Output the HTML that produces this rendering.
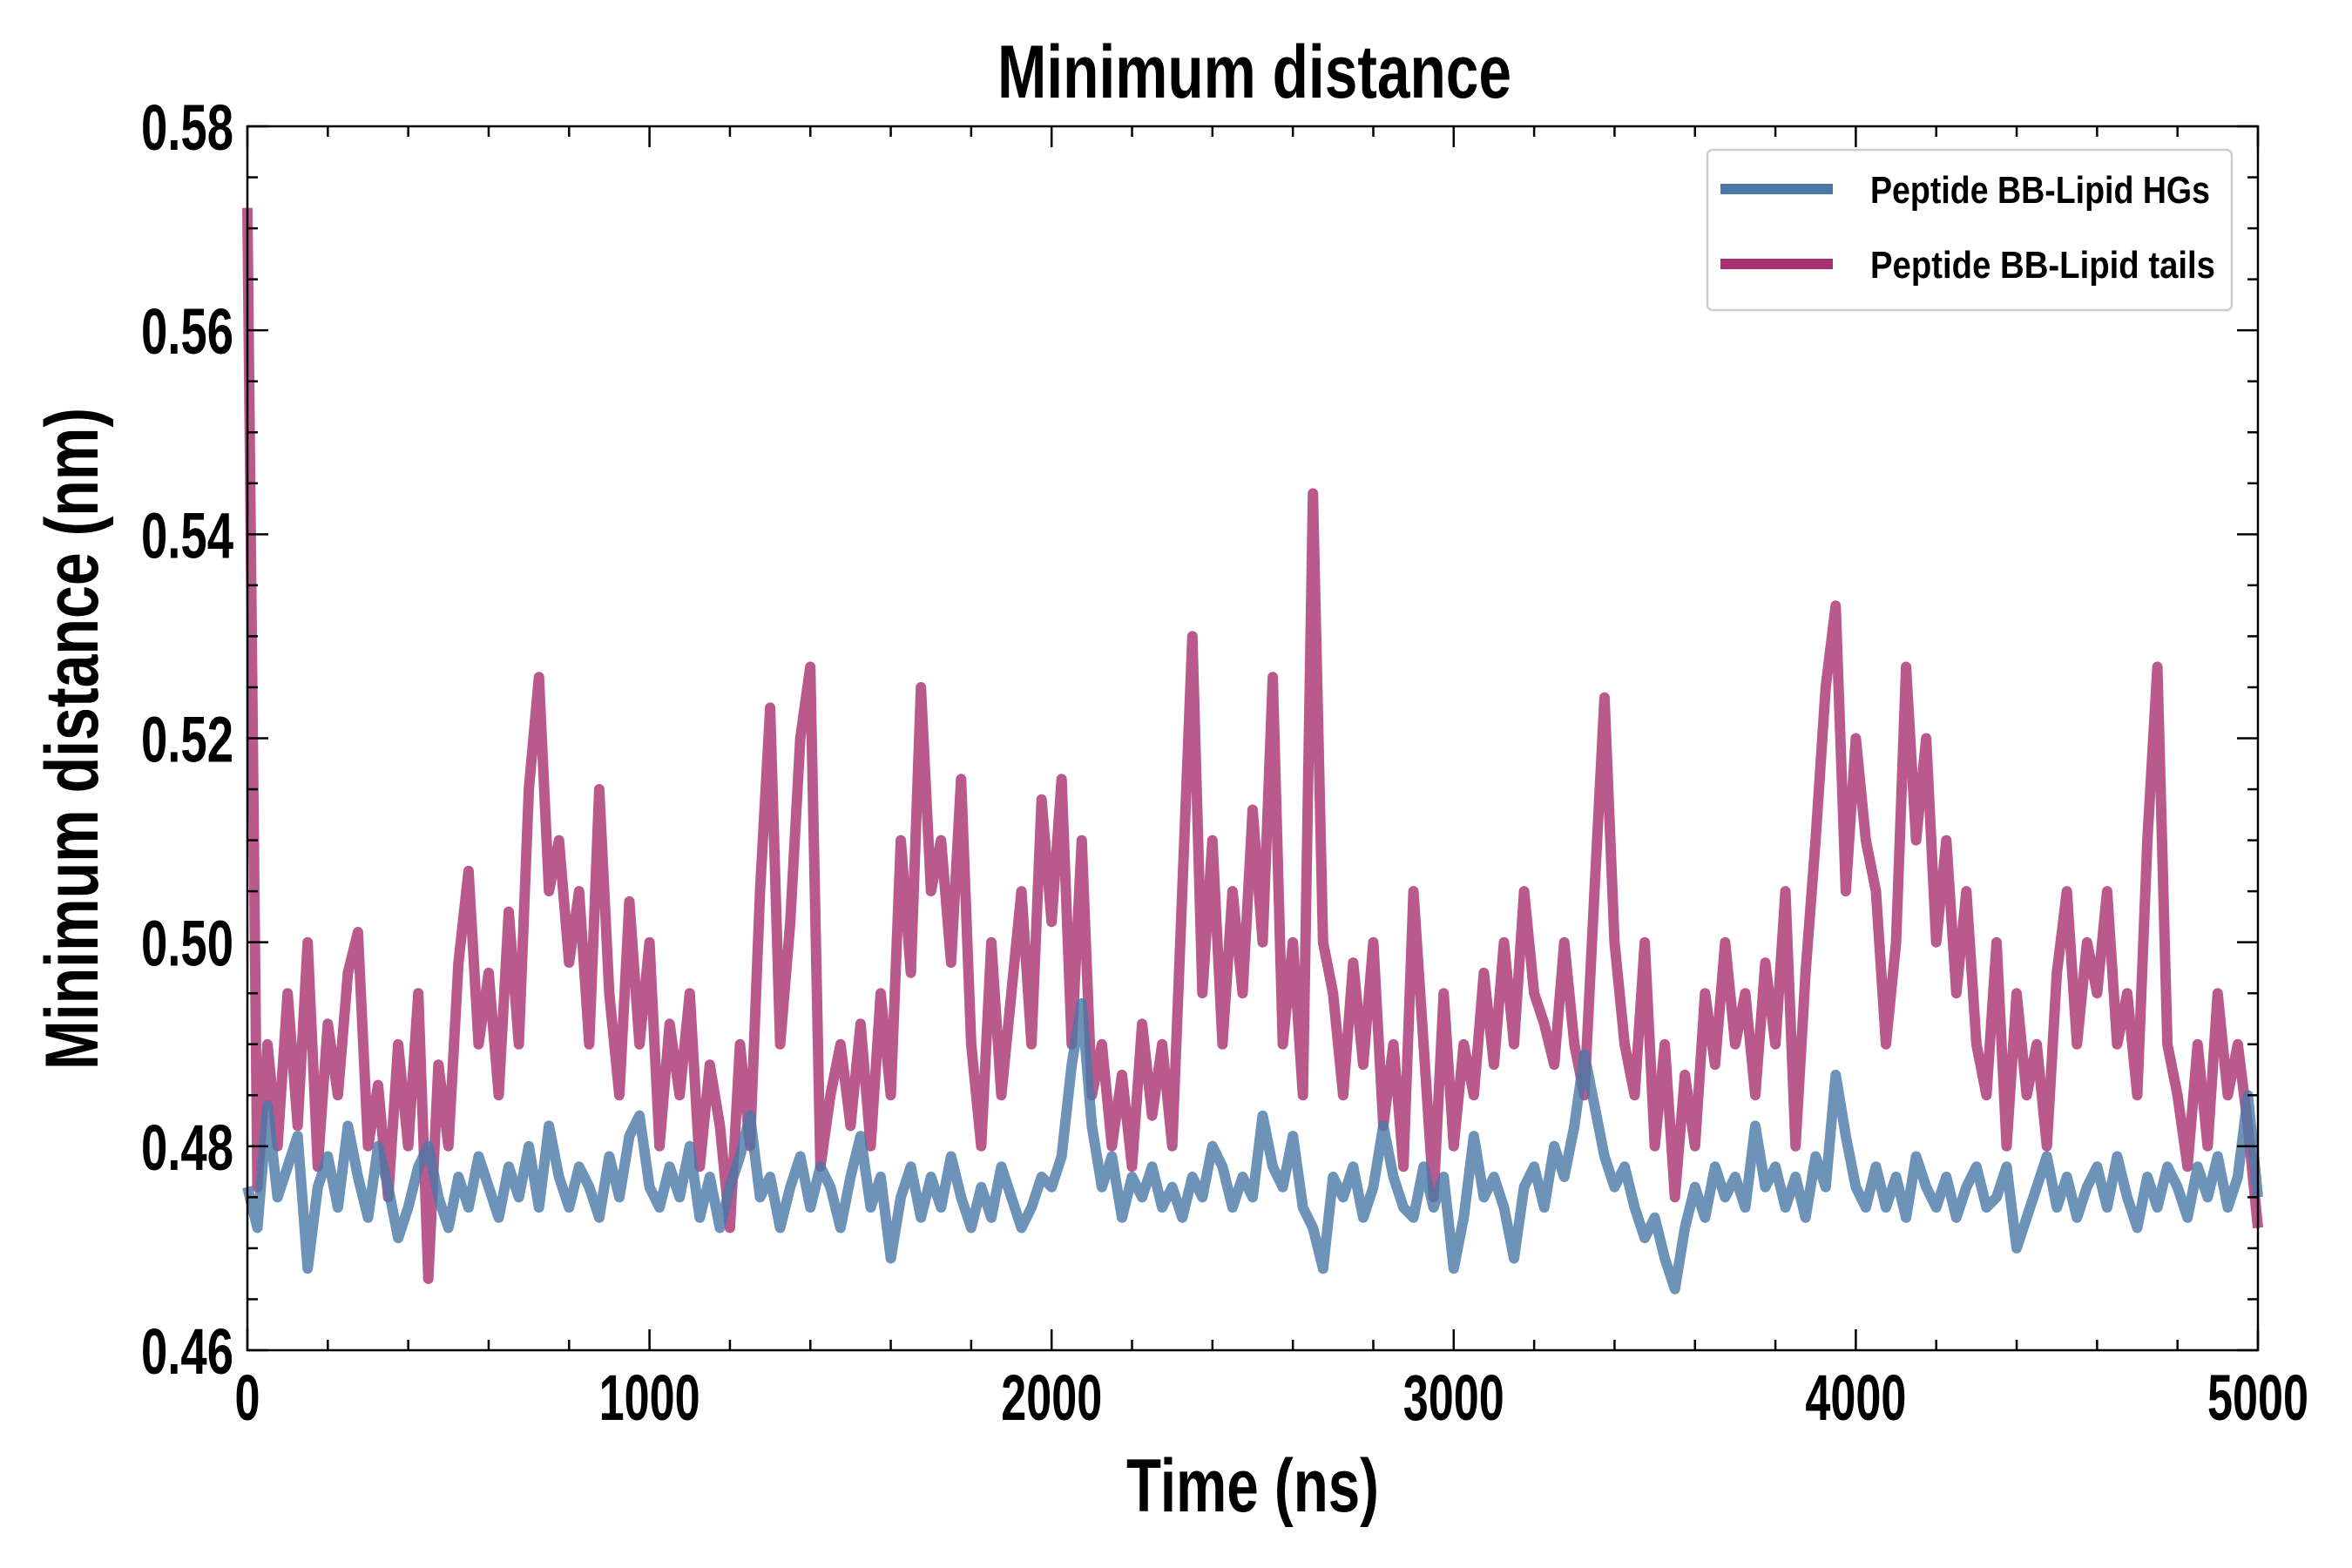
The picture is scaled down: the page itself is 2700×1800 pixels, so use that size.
<!DOCTYPE html>
<html><head><meta charset="utf-8"><style>
html,body{margin:0;padding:0;background:#fff;}
svg{display:block;}
text{font-family:"Liberation Sans Narrow","Liberation Sans",sans-serif;font-weight:bold;fill:#000;}
</style></head><body>
<svg id="chart" width="2700" height="1800" viewBox="0 0 2700 1800">
<g id="plot"></g>
<g id="axes"></g>
<text x="1440" y="112" font-size="86" text-anchor="middle" textLength="590" lengthAdjust="spacingAndGlyphs">Minimum distance</text>
<text x="1438" y="1735" font-size="86" text-anchor="middle" textLength="290" lengthAdjust="spacingAndGlyphs">Time (ns)</text>
<text transform="translate(112,848) rotate(-90)" font-size="86" text-anchor="middle" textLength="760" lengthAdjust="spacingAndGlyphs">Minimum distance (nm)</text>
<g>
<rect x="1960" y="172" width="602" height="184" rx="6" fill="#fff" stroke="#ccc" stroke-width="2.5"/>
<line x1="1975" y1="217" x2="2104" y2="217" stroke="#4a78a8" stroke-width="12"/>
<text x="2147" y="233" font-size="44" textLength="390" lengthAdjust="spacingAndGlyphs">Peptide BB-Lipid HGs</text>
<line x1="1975" y1="303" x2="2104" y2="303" stroke="#a7306f" stroke-width="12"/>
<text x="2147" y="319" font-size="44" textLength="396" lengthAdjust="spacingAndGlyphs">Peptide BB-Lipid tails</text>
</g>
</svg>
<script>
const xTicks = [0,1000,2000,3000,4000,5000];
const yTicks = [0.46,0.48,0.50,0.52,0.54,0.56,0.58];
const yTickLabels = ["0.46","0.48","0.50","0.52","0.54","0.56","0.58"];
const timeStep = 25;
const tails = [0.572,0.476,0.49,0.48,0.495,0.482,0.50,0.478,0.492,0.485,0.497,0.501,0.48,0.486,0.475,0.49,0.48,0.495,0.467,0.488,
0.48,0.498,0.507,0.49,0.497,0.485,0.503,0.49,0.515,0.526,0.505,0.51,0.498,0.505,0.49,0.515,0.495,0.485,0.504,0.49,
0.5,0.48,0.492,0.485,0.495,0.478,0.488,0.482,0.472,0.49,0.48,0.505,0.523,0.49,0.502,0.52,0.527,0.478,0.485,0.49,
0.482,0.492,0.48,0.495,0.485,0.51,0.497,0.525,0.505,0.51,0.498,0.516,0.49,0.48,0.5,0.485,0.495,0.505,0.49,0.514,
0.502,0.516,0.49,0.51,0.485,0.49,0.48,0.487,0.478,0.492,0.483,0.49,0.48,0.505,0.53,0.495,0.51,0.49,0.505,0.495,
0.513,0.5,0.526,0.49,0.5,0.485,0.544,0.5,0.495,0.485,0.498,0.488,0.5,0.482,0.49,0.478,0.505,0.49,0.475,0.495,
0.48,0.49,0.485,0.497,0.488,0.5,0.49,0.505,0.495,0.492,0.488,0.5,0.49,0.485,0.505,0.524,0.5,0.49,0.485,0.5,
0.48,0.49,0.475,0.487,0.48,0.495,0.488,0.5,0.49,0.495,0.485,0.498,0.49,0.505,0.48,0.497,0.51,0.525,0.533,0.505,
0.52,0.51,0.505,0.49,0.5,0.527,0.51,0.52,0.5,0.51,0.495,0.505,0.49,0.485,0.5,0.48,0.495,0.485,0.49,0.48,
0.497,0.505,0.49,0.5,0.495,0.505,0.49,0.495,0.485,0.51,0.527,0.49,0.485,0.478,0.49,0.48,0.495,0.485,0.49,0.482,0.472];
const hgs = [0.476,0.472,0.484,0.475,0.478,0.481,0.468,0.476,0.479,0.474,0.482,0.477,0.473,0.48,0.476,0.471,0.474,0.478,0.48,0.475,
0.472,0.477,0.474,0.479,0.476,0.473,0.478,0.475,0.48,0.474,0.482,0.477,0.474,0.478,0.476,0.473,0.479,0.475,0.481,0.483,
0.476,0.474,0.478,0.475,0.48,0.473,0.477,0.472,0.476,0.479,0.483,0.475,0.477,0.472,0.476,0.479,0.474,0.478,0.476,0.472,
0.477,0.481,0.474,0.477,0.469,0.475,0.478,0.473,0.477,0.474,0.479,0.475,0.472,0.476,0.473,0.478,0.475,0.472,0.474,0.477,
0.476,0.479,0.488,0.494,0.482,0.476,0.479,0.473,0.477,0.475,0.478,0.474,0.476,0.473,0.477,0.475,0.48,0.478,0.474,0.477,
0.475,0.483,0.478,0.476,0.481,0.474,0.472,0.468,0.477,0.475,0.478,0.473,0.476,0.482,0.477,0.474,0.473,0.478,0.474,0.477,
0.468,0.473,0.481,0.475,0.477,0.474,0.469,0.476,0.478,0.474,0.48,0.477,0.482,0.489,0.484,0.479,0.476,0.478,0.474,0.471,
0.473,0.469,0.466,0.472,0.476,0.473,0.478,0.475,0.477,0.474,0.482,0.476,0.478,0.474,0.477,0.473,0.479,0.476,0.487,0.481,
0.476,0.474,0.478,0.474,0.477,0.473,0.479,0.476,0.474,0.477,0.473,0.476,0.478,0.474,0.475,0.478,0.47,0.473,0.476,0.479,
0.474,0.477,0.473,0.476,0.478,0.474,0.479,0.475,0.472,0.477,0.474,0.478,0.476,0.473,0.478,0.475,0.479,0.474,0.477,0.485,0.475];

const NS='http://www.w3.org/2000/svg';
const L=284,R=2592,T=145,B=1550;
const xMin=0,xMax=5000,yMin=0.46,yMax=0.58;
function xs(v){return L+(v-xMin)/(xMax-xMin)*(R-L);}
function ys(v){return B-(v-yMin)/(yMax-yMin)*(B-T);}
const plot=document.getElementById('plot');
const axes=document.getElementById('axes');

function drawSeries(arr,color,name){
  let d='';
  arr.forEach((v,i)=>{d+=(i?'L':'M')+xs(i*timeStep).toFixed(1)+','+ys(v).toFixed(1);});
  const p=document.createElementNS(NS,'path');
  p.setAttribute('d',d);p.setAttribute('fill','none');p.setAttribute('stroke',color);
  p.setAttribute('stroke-width','12');p.setAttribute('stroke-opacity','0.8');p.setAttribute('stroke-linejoin','round');
  
  
  plot.appendChild(p);
}
drawSeries(tails,'#a7306f','series-lipid-tails');
drawSeries(hgs,'#4a78a8','series-lipid-hgs');

function ln(x1,y1,x2,y2,w,name){
  const l=document.createElementNS(NS,'line');
  l.setAttribute('x1',x1);l.setAttribute('y1',y1);l.setAttribute('x2',x2);l.setAttribute('y2',y2);
  l.setAttribute('stroke','#000');l.setAttribute('stroke-width',w);
  
  
  axes.appendChild(l);
}
function tx(x,y,s,anchor,len,name){
  const t=document.createElementNS(NS,'text');
  t.setAttribute('x',x);t.setAttribute('y',y);t.setAttribute('font-size','74');t.setAttribute('text-anchor',anchor);
  t.setAttribute('textLength',len);t.setAttribute('lengthAdjust','spacingAndGlyphs');
  t.textContent=s;
  
  
  axes.appendChild(t);
}
const frame=document.createElementNS(NS,'rect');
frame.setAttribute('x',L);frame.setAttribute('y',T);frame.setAttribute('width',R-L);frame.setAttribute('height',B-T);
frame.setAttribute('fill','none');frame.setAttribute('stroke','#000');frame.setAttribute('stroke-width','2.5');


axes.appendChild(frame);
for(let v=0;v<=5000;v+=200){
  const x=xs(v);const major=v%1000===0;const len=major?24:12;
  ln(x,B,x,B-len,2.5,'x-tick');ln(x,T,x,T+len,2.5,'x-tick-top');
}
xTicks.forEach(v=>tx(xs(v),B+80,String(v),'middle',String(v).length*29,'x-tick-label'));
for(let k=0;k<=24;k++){
  const v=yMin+k*0.005;const y=ys(v);const len=k%4===0?24:12;
  ln(L,y,L+len,y,2.5,'y-tick');ln(R,y,R-len,y,2.5,'y-tick-right');
}
yTicks.forEach((v,i)=>tx(L-16,ys(v)+27,yTickLabels[i],'end',106,'y-tick-label'));
</script>
</body></html>
